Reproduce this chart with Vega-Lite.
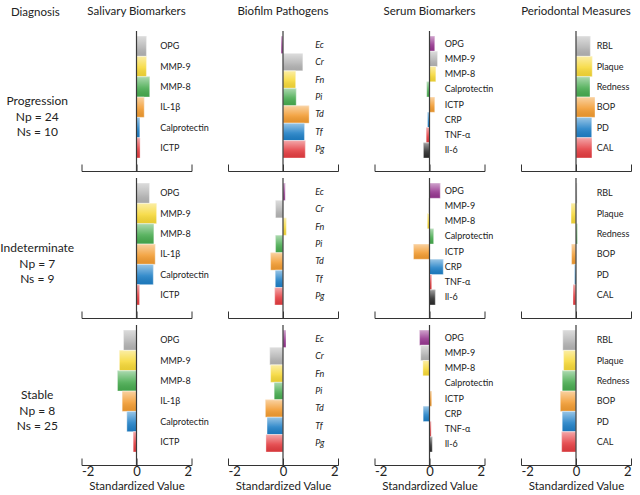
{
"$schema":"https://vega.github.io/schema/vega-lite/v6.json",
"padding":{"left":0,"top":5,"right":5,"bottom":0},
"autosize":{"type":"pad"},
"bounds":"flush",
"align":"each",
"columns":5,
"spacing":{"row":7,"column":36.5},
"resolve":{"scale":{"color":"independent","x":"independent","y":"independent"}},
"datasets":{
"rows":[
{"d":"Progression","label":"Progression\nNp = 24\nNs = 10"},
{"d":"Indeterminate","label":"Indeterminate\nNp = 7\nNs = 9"},
{"d":"Stable","label":"Stable\nNp = 8\nNs = 25"}
],
"sal":[
{"d":"Progression","item":"OPG","v":0.36},
{"d":"Progression","item":"MMP-9","v":0.36},
{"d":"Progression","item":"MMP-8","v":0.48},
{"d":"Progression","item":"IL-1β","v":0.28},
{"d":"Progression","item":"Calprotectin","v":0.12},
{"d":"Progression","item":"ICTP","v":0.13},
{"d":"Indeterminate","item":"OPG","v":0.47},
{"d":"Indeterminate","item":"MMP-9","v":0.73},
{"d":"Indeterminate","item":"MMP-8","v":0.63},
{"d":"Indeterminate","item":"IL-1β","v":0.68},
{"d":"Indeterminate","item":"Calprotectin","v":0.61},
{"d":"Indeterminate","item":"ICTP","v":0.11},
{"d":"Stable","item":"OPG","v":-0.47},
{"d":"Stable","item":"MMP-9","v":-0.62},
{"d":"Stable","item":"MMP-8","v":-0.69},
{"d":"Stable","item":"IL-1β","v":-0.52},
{"d":"Stable","item":"Calprotectin","v":-0.35},
{"d":"Stable","item":"ICTP","v":-0.12}
],
"bio":[
{"d":"Progression","item":"Ec","v":-0.07},
{"d":"Progression","item":"Cr","v":0.72},
{"d":"Progression","item":"Fn","v":0.46},
{"d":"Progression","item":"Pi","v":0.48},
{"d":"Progression","item":"Td","v":0.95},
{"d":"Progression","item":"Tf","v":0.78},
{"d":"Progression","item":"Pg","v":0.81},
{"d":"Indeterminate","item":"Ec","v":0.08},
{"d":"Indeterminate","item":"Cr","v":-0.27},
{"d":"Indeterminate","item":"Fn","v":0.12},
{"d":"Indeterminate","item":"Pi","v":-0.27},
{"d":"Indeterminate","item":"Td","v":-0.45},
{"d":"Indeterminate","item":"Tf","v":-0.28},
{"d":"Indeterminate","item":"Pg","v":-0.30},
{"d":"Stable","item":"Ec","v":0.11},
{"d":"Stable","item":"Cr","v":-0.48},
{"d":"Stable","item":"Fn","v":-0.45},
{"d":"Stable","item":"Pi","v":-0.32},
{"d":"Stable","item":"Td","v":-0.64},
{"d":"Stable","item":"Tf","v":-0.58},
{"d":"Stable","item":"Pg","v":-0.62}
],
"ser":[
{"d":"Progression","item":"OPG","v":0.19},
{"d":"Progression","item":"MMP-9","v":0.29},
{"d":"Progression","item":"MMP-8","v":0.23},
{"d":"Progression","item":"Calprotectin","v":-0.10},
{"d":"Progression","item":"ICTP","v":0.19},
{"d":"Progression","item":"CRP","v":-0.07},
{"d":"Progression","item":"TNF-α","v":-0.12},
{"d":"Progression","item":"Il-6","v":-0.22},
{"d":"Indeterminate","item":"OPG","v":0.39},
{"d":"Indeterminate","item":"MMP-9","v":-0.03},
{"d":"Indeterminate","item":"MMP-8","v":-0.08},
{"d":"Indeterminate","item":"Calprotectin","v":0.15},
{"d":"Indeterminate","item":"ICTP","v":-0.58},
{"d":"Indeterminate","item":"CRP","v":0.50},
{"d":"Indeterminate","item":"TNF-α","v":0.08},
{"d":"Indeterminate","item":"Il-6","v":0.21},
{"d":"Stable","item":"OPG","v":-0.36},
{"d":"Stable","item":"MMP-9","v":-0.32},
{"d":"Stable","item":"MMP-8","v":-0.24},
{"d":"Stable","item":"Calprotectin","v":0.01},
{"d":"Stable","item":"ICTP","v":0.08},
{"d":"Stable","item":"CRP","v":-0.23},
{"d":"Stable","item":"TNF-α","v":0.06},
{"d":"Stable","item":"Il-6","v":0.10}
],
"per":[
{"d":"Progression","item":"RBL","v":0.52},
{"d":"Progression","item":"Plaque","v":0.59},
{"d":"Progression","item":"Redness","v":0.51},
{"d":"Progression","item":"BOP","v":0.69},
{"d":"Progression","item":"PD","v":0.57},
{"d":"Progression","item":"CAL","v":0.58},
{"d":"Indeterminate","item":"RBL","v":0.04},
{"d":"Indeterminate","item":"Plaque","v":-0.18},
{"d":"Indeterminate","item":"Redness","v":0.05},
{"d":"Indeterminate","item":"BOP","v":-0.16},
{"d":"Indeterminate","item":"PD","v":-0.05},
{"d":"Indeterminate","item":"CAL","v":-0.11},
{"d":"Stable","item":"RBL","v":-0.48},
{"d":"Stable","item":"Plaque","v":-0.45},
{"d":"Stable","item":"Redness","v":-0.50},
{"d":"Stable","item":"BOP","v":-0.57},
{"d":"Stable","item":"PD","v":-0.50},
{"d":"Stable","item":"CAL","v":-0.52}
]
},
"concat":[
{"width":44.5,"height":140,"title":{"text":"Diagnosis","dx":13},"data":{"name":"rows"},"transform":[{"filter":"datum.d==='Progression'"}],"mark":{"type":"text","lineBreak":"\n","fontSize":12,"lineHeight":15.5,"dx":15,"align":"center","baseline":"middle"},"encoding":{"text":{"field":"label"}}},
{"width":110,"height":140,"title":"Salivary Biomarkers","data":{"name":"sal"},"transform":[{"filter":"datum.d==='Progression'"}],"layer":[
{"mark":{"type":"bar"},"encoding":{"y":{"field":"item","type":"nominal","sort":null,"axis":null,"scale":{"range":[5,127],"paddingInner":0,"paddingOuter":0}},"x":{"field":"v","type":"quantitative","scale":{"domain":[-2,2],"nice":false,"zero":false},"axis":{"values":[-2,-1,0,1,2],"labels":false,"title":null,"tickSize":-7,"grid":false}},"color":{"field":"item","type":"nominal","legend":null,"scale":{"domain":["OPG","MMP-9","MMP-8","IL-1β","Calprotectin","ICTP"],"range":["#b3b3b3","#f6d836","#47ab4f","#f29b30","#1e7fc6","#e43c40"]}}}},
{"mark":{"type":"bar","color":{"gradient":"linear","x1":0,"y1":0,"x2":0,"y2":1,"stops":[{"offset":0,"color":"rgba(255,255,255,0.55)"},{"offset":0.55,"color":"rgba(255,255,255,0.12)"},{"offset":1,"color":"rgba(0,0,0,0.06)"}]},"stroke":"#ffffff","strokeOpacity":0.5,"strokeWidth":0.7},"encoding":{"y":{"field":"item","type":"nominal","sort":null},"x":{"field":"v","type":"quantitative"}}},
{"data":{"values":[{}]},"mark":{"type":"rule","color":"#3a3a3a","strokeWidth":1.2},"encoding":{"x":{"datum":0}}},
{"mark":{"type":"text","align":"left","baseline":"middle","fontSize":9},"encoding":{"y":{"field":"item","type":"nominal","sort":null},"x":{"datum":0.86},"text":{"field":"item"}}}
]},
{"width":110,"height":140,"title":"Biofilm Pathogens","data":{"name":"bio"},"transform":[{"filter":"datum.d==='Progression'"}],"layer":[
{"mark":{"type":"bar"},"encoding":{"y":{"field":"item","type":"nominal","sort":null,"axis":null,"scale":{"range":[5,127],"paddingInner":0,"paddingOuter":0}},"x":{"field":"v","type":"quantitative","scale":{"domain":[-2,2],"nice":false,"zero":false},"axis":{"values":[-2,-1,0,1,2],"labels":false,"title":null,"tickSize":-7,"grid":false}},"color":{"field":"item","type":"nominal","legend":null,"scale":{"domain":["Ec","Cr","Fn","Pi","Td","Tf","Pg"],"range":["#96358f","#b3b3b3","#f6d836","#47ab4f","#f29b30","#1e7fc6","#e43c40"]}}}},
{"mark":{"type":"bar","color":{"gradient":"linear","x1":0,"y1":0,"x2":0,"y2":1,"stops":[{"offset":0,"color":"rgba(255,255,255,0.55)"},{"offset":0.55,"color":"rgba(255,255,255,0.12)"},{"offset":1,"color":"rgba(0,0,0,0.06)"}]},"stroke":"#ffffff","strokeOpacity":0.5,"strokeWidth":0.7},"encoding":{"y":{"field":"item","type":"nominal","sort":null},"x":{"field":"v","type":"quantitative"}}},
{"data":{"values":[{}]},"mark":{"type":"rule","color":"#3a3a3a","strokeWidth":1.2},"encoding":{"x":{"datum":0}}},
{"mark":{"type":"text","align":"left","baseline":"middle","fontSize":9,"fontStyle":"italic"},"encoding":{"y":{"field":"item","type":"nominal","sort":null},"x":{"datum":1.17},"text":{"field":"item"}}}
]},
{"width":110,"height":140,"title":"Serum Biomarkers","data":{"name":"ser"},"transform":[{"filter":"datum.d==='Progression'"}],"layer":[
{"mark":{"type":"bar"},"encoding":{"y":{"field":"item","type":"nominal","sort":null,"axis":null,"scale":{"range":[5,127],"paddingInner":0,"paddingOuter":0}},"x":{"field":"v","type":"quantitative","scale":{"domain":[-2,2],"nice":false,"zero":false},"axis":{"values":[-2,-1,0,1,2],"labels":false,"title":null,"tickSize":-7,"grid":false}},"color":{"field":"item","type":"nominal","legend":null,"scale":{"domain":["OPG","MMP-9","MMP-8","Calprotectin","ICTP","CRP","TNF-α","Il-6"],"range":["#96358f","#b3b3b3","#f6d836","#47ab4f","#f29b30","#1e7fc6","#e43c40","#2b2b2b"]}}}},
{"mark":{"type":"bar","color":{"gradient":"linear","x1":0,"y1":0,"x2":0,"y2":1,"stops":[{"offset":0,"color":"rgba(255,255,255,0.55)"},{"offset":0.55,"color":"rgba(255,255,255,0.12)"},{"offset":1,"color":"rgba(0,0,0,0.06)"}]},"stroke":"#ffffff","strokeOpacity":0.5,"strokeWidth":0.7},"encoding":{"y":{"field":"item","type":"nominal","sort":null},"x":{"field":"v","type":"quantitative"}}},
{"data":{"values":[{}]},"mark":{"type":"rule","color":"#3a3a3a","strokeWidth":1.2},"encoding":{"x":{"datum":0}}},
{"mark":{"type":"text","align":"left","baseline":"middle","fontSize":9},"encoding":{"y":{"field":"item","type":"nominal","sort":null},"x":{"datum":0.55},"text":{"field":"item"}}}
]},
{"width":110,"height":140,"title":"Periodontal Measures","data":{"name":"per"},"transform":[{"filter":"datum.d==='Progression'"}],"layer":[
{"mark":{"type":"bar"},"encoding":{"y":{"field":"item","type":"nominal","sort":null,"axis":null,"scale":{"range":[5,127],"paddingInner":0,"paddingOuter":0}},"x":{"field":"v","type":"quantitative","scale":{"domain":[-2,2],"nice":false,"zero":false},"axis":{"values":[-2,-1,0,1,2],"labels":false,"title":null,"tickSize":-7,"grid":false}},"color":{"field":"item","type":"nominal","legend":null,"scale":{"domain":["RBL","Plaque","Redness","BOP","PD","CAL"],"range":["#b3b3b3","#f6d836","#47ab4f","#f29b30","#1e7fc6","#e43c40"]}}}},
{"mark":{"type":"bar","color":{"gradient":"linear","x1":0,"y1":0,"x2":0,"y2":1,"stops":[{"offset":0,"color":"rgba(255,255,255,0.55)"},{"offset":0.55,"color":"rgba(255,255,255,0.12)"},{"offset":1,"color":"rgba(0,0,0,0.06)"}]},"stroke":"#ffffff","strokeOpacity":0.5,"strokeWidth":0.7},"encoding":{"y":{"field":"item","type":"nominal","sort":null},"x":{"field":"v","type":"quantitative"}}},
{"data":{"values":[{}]},"mark":{"type":"rule","color":"#3a3a3a","strokeWidth":1.2},"encoding":{"x":{"datum":0}}},
{"mark":{"type":"text","align":"left","baseline":"middle","fontSize":9},"encoding":{"y":{"field":"item","type":"nominal","sort":null},"x":{"datum":0.75},"text":{"field":"item"}}}
]},

{"width":44.5,"height":140,"data":{"name":"rows"},"transform":[{"filter":"datum.d==='Indeterminate'"}],"mark":{"type":"text","lineBreak":"\n","fontSize":12,"lineHeight":15.5,"dx":15,"align":"center","baseline":"middle"},"encoding":{"text":{"field":"label"}}},
{"width":110,"height":140,"data":{"name":"sal"},"transform":[{"filter":"datum.d==='Indeterminate'"}],"layer":[
{"mark":{"type":"bar"},"encoding":{"y":{"field":"item","type":"nominal","sort":null,"axis":null,"scale":{"range":[5,127],"paddingInner":0,"paddingOuter":0}},"x":{"field":"v","type":"quantitative","scale":{"domain":[-2,2],"nice":false,"zero":false},"axis":{"values":[-2,-1,0,1,2],"labels":false,"title":null,"tickSize":-7,"grid":false}},"color":{"field":"item","type":"nominal","legend":null,"scale":{"domain":["OPG","MMP-9","MMP-8","IL-1β","Calprotectin","ICTP"],"range":["#b3b3b3","#f6d836","#47ab4f","#f29b30","#1e7fc6","#e43c40"]}}}},
{"mark":{"type":"bar","color":{"gradient":"linear","x1":0,"y1":0,"x2":0,"y2":1,"stops":[{"offset":0,"color":"rgba(255,255,255,0.55)"},{"offset":0.55,"color":"rgba(255,255,255,0.12)"},{"offset":1,"color":"rgba(0,0,0,0.06)"}]},"stroke":"#ffffff","strokeOpacity":0.5,"strokeWidth":0.7},"encoding":{"y":{"field":"item","type":"nominal","sort":null},"x":{"field":"v","type":"quantitative"}}},
{"data":{"values":[{}]},"mark":{"type":"rule","color":"#3a3a3a","strokeWidth":1.2},"encoding":{"x":{"datum":0}}},
{"mark":{"type":"text","align":"left","baseline":"middle","fontSize":9},"encoding":{"y":{"field":"item","type":"nominal","sort":null},"x":{"datum":0.86},"text":{"field":"item"}}}
]},
{"width":110,"height":140,"data":{"name":"bio"},"transform":[{"filter":"datum.d==='Indeterminate'"}],"layer":[
{"mark":{"type":"bar"},"encoding":{"y":{"field":"item","type":"nominal","sort":null,"axis":null,"scale":{"range":[5,127],"paddingInner":0,"paddingOuter":0}},"x":{"field":"v","type":"quantitative","scale":{"domain":[-2,2],"nice":false,"zero":false},"axis":{"values":[-2,-1,0,1,2],"labels":false,"title":null,"tickSize":-7,"grid":false}},"color":{"field":"item","type":"nominal","legend":null,"scale":{"domain":["Ec","Cr","Fn","Pi","Td","Tf","Pg"],"range":["#96358f","#b3b3b3","#f6d836","#47ab4f","#f29b30","#1e7fc6","#e43c40"]}}}},
{"mark":{"type":"bar","color":{"gradient":"linear","x1":0,"y1":0,"x2":0,"y2":1,"stops":[{"offset":0,"color":"rgba(255,255,255,0.55)"},{"offset":0.55,"color":"rgba(255,255,255,0.12)"},{"offset":1,"color":"rgba(0,0,0,0.06)"}]},"stroke":"#ffffff","strokeOpacity":0.5,"strokeWidth":0.7},"encoding":{"y":{"field":"item","type":"nominal","sort":null},"x":{"field":"v","type":"quantitative"}}},
{"data":{"values":[{}]},"mark":{"type":"rule","color":"#3a3a3a","strokeWidth":1.2},"encoding":{"x":{"datum":0}}},
{"mark":{"type":"text","align":"left","baseline":"middle","fontSize":9,"fontStyle":"italic"},"encoding":{"y":{"field":"item","type":"nominal","sort":null},"x":{"datum":1.17},"text":{"field":"item"}}}
]},
{"width":110,"height":140,"data":{"name":"ser"},"transform":[{"filter":"datum.d==='Indeterminate'"}],"layer":[
{"mark":{"type":"bar"},"encoding":{"y":{"field":"item","type":"nominal","sort":null,"axis":null,"scale":{"range":[5,127],"paddingInner":0,"paddingOuter":0}},"x":{"field":"v","type":"quantitative","scale":{"domain":[-2,2],"nice":false,"zero":false},"axis":{"values":[-2,-1,0,1,2],"labels":false,"title":null,"tickSize":-7,"grid":false}},"color":{"field":"item","type":"nominal","legend":null,"scale":{"domain":["OPG","MMP-9","MMP-8","Calprotectin","ICTP","CRP","TNF-α","Il-6"],"range":["#96358f","#b3b3b3","#f6d836","#47ab4f","#f29b30","#1e7fc6","#e43c40","#2b2b2b"]}}}},
{"mark":{"type":"bar","color":{"gradient":"linear","x1":0,"y1":0,"x2":0,"y2":1,"stops":[{"offset":0,"color":"rgba(255,255,255,0.55)"},{"offset":0.55,"color":"rgba(255,255,255,0.12)"},{"offset":1,"color":"rgba(0,0,0,0.06)"}]},"stroke":"#ffffff","strokeOpacity":0.5,"strokeWidth":0.7},"encoding":{"y":{"field":"item","type":"nominal","sort":null},"x":{"field":"v","type":"quantitative"}}},
{"data":{"values":[{}]},"mark":{"type":"rule","color":"#3a3a3a","strokeWidth":1.2},"encoding":{"x":{"datum":0}}},
{"mark":{"type":"text","align":"left","baseline":"middle","fontSize":9},"encoding":{"y":{"field":"item","type":"nominal","sort":null},"x":{"datum":0.55},"text":{"field":"item"}}}
]},
{"width":110,"height":140,"data":{"name":"per"},"transform":[{"filter":"datum.d==='Indeterminate'"}],"layer":[
{"mark":{"type":"bar"},"encoding":{"y":{"field":"item","type":"nominal","sort":null,"axis":null,"scale":{"range":[5,127],"paddingInner":0,"paddingOuter":0}},"x":{"field":"v","type":"quantitative","scale":{"domain":[-2,2],"nice":false,"zero":false},"axis":{"values":[-2,-1,0,1,2],"labels":false,"title":null,"tickSize":-7,"grid":false}},"color":{"field":"item","type":"nominal","legend":null,"scale":{"domain":["RBL","Plaque","Redness","BOP","PD","CAL"],"range":["#b3b3b3","#f6d836","#47ab4f","#f29b30","#1e7fc6","#e43c40"]}}}},
{"mark":{"type":"bar","color":{"gradient":"linear","x1":0,"y1":0,"x2":0,"y2":1,"stops":[{"offset":0,"color":"rgba(255,255,255,0.55)"},{"offset":0.55,"color":"rgba(255,255,255,0.12)"},{"offset":1,"color":"rgba(0,0,0,0.06)"}]},"stroke":"#ffffff","strokeOpacity":0.5,"strokeWidth":0.7},"encoding":{"y":{"field":"item","type":"nominal","sort":null},"x":{"field":"v","type":"quantitative"}}},
{"data":{"values":[{}]},"mark":{"type":"rule","color":"#3a3a3a","strokeWidth":1.2},"encoding":{"x":{"datum":0}}},
{"mark":{"type":"text","align":"left","baseline":"middle","fontSize":9},"encoding":{"y":{"field":"item","type":"nominal","sort":null},"x":{"datum":0.75},"text":{"field":"item"}}}
]},

{"width":44.5,"height":140,"data":{"name":"rows"},"transform":[{"filter":"datum.d==='Stable'"}],"mark":{"type":"text","lineBreak":"\n","fontSize":12,"lineHeight":15.5,"dx":15,"align":"center","baseline":"middle"},"encoding":{"text":{"field":"label"}}},
{"width":110,"height":140,"data":{"name":"sal"},"transform":[{"filter":"datum.d==='Stable'"}],"layer":[
{"mark":{"type":"bar"},"encoding":{"y":{"field":"item","type":"nominal","sort":null,"axis":null,"scale":{"range":[5,127],"paddingInner":0,"paddingOuter":0}},"x":{"field":"v","type":"quantitative","scale":{"domain":[-2,2],"nice":false,"zero":false},"axis":{"values":[-2,-1,0,1,2],"title":"Standardized Value","labelExpr":"toString(datum.value)","tickSize":-7,"labelPadding":7,"grid":false}},"color":{"field":"item","type":"nominal","legend":null,"scale":{"domain":["OPG","MMP-9","MMP-8","IL-1β","Calprotectin","ICTP"],"range":["#b3b3b3","#f6d836","#47ab4f","#f29b30","#1e7fc6","#e43c40"]}}}},
{"mark":{"type":"bar","color":{"gradient":"linear","x1":0,"y1":0,"x2":0,"y2":1,"stops":[{"offset":0,"color":"rgba(255,255,255,0.55)"},{"offset":0.55,"color":"rgba(255,255,255,0.12)"},{"offset":1,"color":"rgba(0,0,0,0.06)"}]},"stroke":"#ffffff","strokeOpacity":0.5,"strokeWidth":0.7},"encoding":{"y":{"field":"item","type":"nominal","sort":null},"x":{"field":"v","type":"quantitative"}}},
{"data":{"values":[{}]},"mark":{"type":"rule","color":"#3a3a3a","strokeWidth":1.2},"encoding":{"x":{"datum":0}}},
{"mark":{"type":"text","align":"left","baseline":"middle","fontSize":9},"encoding":{"y":{"field":"item","type":"nominal","sort":null},"x":{"datum":0.86},"text":{"field":"item"}}}
]},
{"width":110,"height":140,"data":{"name":"bio"},"transform":[{"filter":"datum.d==='Stable'"}],"layer":[
{"mark":{"type":"bar"},"encoding":{"y":{"field":"item","type":"nominal","sort":null,"axis":null,"scale":{"range":[5,127],"paddingInner":0,"paddingOuter":0}},"x":{"field":"v","type":"quantitative","scale":{"domain":[-2,2],"nice":false,"zero":false},"axis":{"values":[-2,-1,0,1,2],"title":"Standardized Value","labelExpr":"toString(datum.value)","tickSize":-7,"labelPadding":7,"grid":false}},"color":{"field":"item","type":"nominal","legend":null,"scale":{"domain":["Ec","Cr","Fn","Pi","Td","Tf","Pg"],"range":["#96358f","#b3b3b3","#f6d836","#47ab4f","#f29b30","#1e7fc6","#e43c40"]}}}},
{"mark":{"type":"bar","color":{"gradient":"linear","x1":0,"y1":0,"x2":0,"y2":1,"stops":[{"offset":0,"color":"rgba(255,255,255,0.55)"},{"offset":0.55,"color":"rgba(255,255,255,0.12)"},{"offset":1,"color":"rgba(0,0,0,0.06)"}]},"stroke":"#ffffff","strokeOpacity":0.5,"strokeWidth":0.7},"encoding":{"y":{"field":"item","type":"nominal","sort":null},"x":{"field":"v","type":"quantitative"}}},
{"data":{"values":[{}]},"mark":{"type":"rule","color":"#3a3a3a","strokeWidth":1.2},"encoding":{"x":{"datum":0}}},
{"mark":{"type":"text","align":"left","baseline":"middle","fontSize":9,"fontStyle":"italic"},"encoding":{"y":{"field":"item","type":"nominal","sort":null},"x":{"datum":1.17},"text":{"field":"item"}}}
]},
{"width":110,"height":140,"data":{"name":"ser"},"transform":[{"filter":"datum.d==='Stable'"}],"layer":[
{"mark":{"type":"bar"},"encoding":{"y":{"field":"item","type":"nominal","sort":null,"axis":null,"scale":{"range":[5,127],"paddingInner":0,"paddingOuter":0}},"x":{"field":"v","type":"quantitative","scale":{"domain":[-2,2],"nice":false,"zero":false},"axis":{"values":[-2,-1,0,1,2],"title":"Standardized Value","labelExpr":"toString(datum.value)","tickSize":-7,"labelPadding":7,"grid":false}},"color":{"field":"item","type":"nominal","legend":null,"scale":{"domain":["OPG","MMP-9","MMP-8","Calprotectin","ICTP","CRP","TNF-α","Il-6"],"range":["#96358f","#b3b3b3","#f6d836","#47ab4f","#f29b30","#1e7fc6","#e43c40","#2b2b2b"]}}}},
{"mark":{"type":"bar","color":{"gradient":"linear","x1":0,"y1":0,"x2":0,"y2":1,"stops":[{"offset":0,"color":"rgba(255,255,255,0.55)"},{"offset":0.55,"color":"rgba(255,255,255,0.12)"},{"offset":1,"color":"rgba(0,0,0,0.06)"}]},"stroke":"#ffffff","strokeOpacity":0.5,"strokeWidth":0.7},"encoding":{"y":{"field":"item","type":"nominal","sort":null},"x":{"field":"v","type":"quantitative"}}},
{"data":{"values":[{}]},"mark":{"type":"rule","color":"#3a3a3a","strokeWidth":1.2},"encoding":{"x":{"datum":0}}},
{"mark":{"type":"text","align":"left","baseline":"middle","fontSize":9},"encoding":{"y":{"field":"item","type":"nominal","sort":null},"x":{"datum":0.55},"text":{"field":"item"}}}
]},
{"width":110,"height":140,"data":{"name":"per"},"transform":[{"filter":"datum.d==='Stable'"}],"layer":[
{"mark":{"type":"bar"},"encoding":{"y":{"field":"item","type":"nominal","sort":null,"axis":null,"scale":{"range":[5,127],"paddingInner":0,"paddingOuter":0}},"x":{"field":"v","type":"quantitative","scale":{"domain":[-2,2],"nice":false,"zero":false},"axis":{"values":[-2,-1,0,1,2],"title":"Standardized Value","labelExpr":"toString(datum.value)","tickSize":-7,"labelPadding":7,"grid":false}},"color":{"field":"item","type":"nominal","legend":null,"scale":{"domain":["RBL","Plaque","Redness","BOP","PD","CAL"],"range":["#b3b3b3","#f6d836","#47ab4f","#f29b30","#1e7fc6","#e43c40"]}}}},
{"mark":{"type":"bar","color":{"gradient":"linear","x1":0,"y1":0,"x2":0,"y2":1,"stops":[{"offset":0,"color":"rgba(255,255,255,0.55)"},{"offset":0.55,"color":"rgba(255,255,255,0.12)"},{"offset":1,"color":"rgba(0,0,0,0.06)"}]},"stroke":"#ffffff","strokeOpacity":0.5,"strokeWidth":0.7},"encoding":{"y":{"field":"item","type":"nominal","sort":null},"x":{"field":"v","type":"quantitative"}}},
{"data":{"values":[{}]},"mark":{"type":"rule","color":"#3a3a3a","strokeWidth":1.2},"encoding":{"x":{"datum":0}}},
{"mark":{"type":"text","align":"left","baseline":"middle","fontSize":9},"encoding":{"y":{"field":"item","type":"nominal","sort":null},"x":{"datum":0.75},"text":{"field":"item"}}}
]}
],
"config":{
"view":{"stroke":null},
"font":"Lato",
"title":{"fontSize":11.5,"fontWeight":"normal","color":"#222","offset":13},
"axis":{"domainColor":"#333","tickColor":"#333","domainWidth":1,"tickWidth":1,"labelColor":"#222","titleColor":"#222","labelFontSize":13,"titleFontSize":11.5,"titleFontWeight":"normal","titlePadding":2},
"text":{"color":"#222"}
}
}
